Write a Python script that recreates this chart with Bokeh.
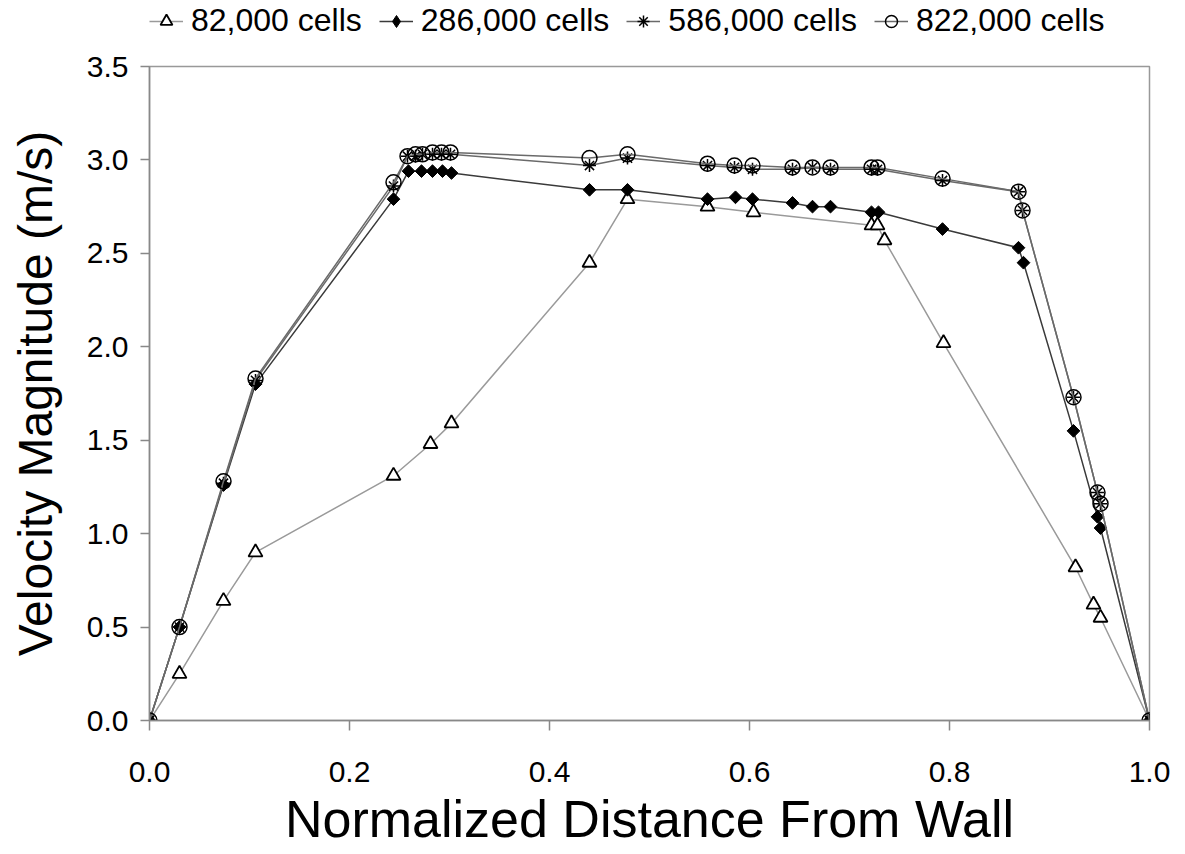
from bokeh.plotting import figure
from bokeh.layouts import column
from bokeh.models import Range1d, FixedTicker, NumeralTickFormatter, Legend, LegendItem
from bokeh.embed import file_html
from bokeh.resources import INLINE

# ---- data ----
x_82 = [0.0, 0.03, 0.074, 0.106, 0.244, 0.281, 0.302, 0.44, 0.478, 0.558, 0.604,
        0.722, 0.728, 0.735, 0.794, 0.926, 0.944, 0.951, 1.0]
v_82 = [0.0, 0.25, 0.64, 0.90, 1.31, 1.48, 1.59, 2.45, 2.79, 2.75, 2.72,
        2.65, 2.65, 2.57, 2.02, 0.82, 0.62, 0.55, 0.0]

x_286 = [0.0, 0.03, 0.074, 0.106, 0.244, 0.259, 0.272, 0.283, 0.293, 0.302, 0.44, 0.478,
         0.558, 0.586, 0.603, 0.643, 0.663, 0.681, 0.722, 0.729, 0.793, 0.869, 0.874,
         0.924, 0.948, 0.951, 1.0]
v_286 = [0.0, 0.50, 1.26, 1.80, 2.79, 2.94, 2.94, 2.94, 2.94, 2.93, 2.84, 2.84,
         2.79, 2.80, 2.79, 2.77, 2.75, 2.75, 2.72, 2.72, 2.63, 2.53, 2.45,
         1.55, 1.09, 1.03, 0.0]

x_586 = [0.0, 0.03, 0.074, 0.106, 0.244, 0.258, 0.266, 0.273, 0.283, 0.292, 0.301, 0.44, 0.478,
         0.558, 0.585, 0.603, 0.643, 0.663, 0.681, 0.722, 0.728, 0.793, 0.869, 0.873,
         0.924, 0.948, 0.951, 1.0]
v_586 = [0.0, 0.50, 1.27, 1.82, 2.86, 3.02, 3.02, 3.03, 3.03, 3.03, 3.03, 2.97, 3.01,
         2.97, 2.96, 2.95, 2.95, 2.96, 2.95, 2.95, 2.95, 2.89, 2.83, 2.73,
         1.73, 1.22, 1.16, 0.0]

x_822 = [0.0, 0.03, 0.074, 0.106, 0.244, 0.258, 0.266, 0.273, 0.283, 0.292, 0.301, 0.44, 0.478,
         0.558, 0.585, 0.603, 0.643, 0.663, 0.681, 0.722, 0.728, 0.793, 0.869, 0.873,
         0.924, 0.948, 0.951, 1.0]
v_822 = [0.0, 0.50, 1.28, 1.83, 2.88, 3.02, 3.03, 3.03, 3.04, 3.04, 3.04, 3.01, 3.03,
         2.98, 2.97, 2.97, 2.96, 2.96, 2.96, 2.96, 2.96, 2.90, 2.83, 2.73,
         1.73, 1.22, 1.16, 0.0]

labels = ["82,000 cells", "286,000 cells", "586,000 cells", "822,000 cells"]
x_ticks = [0.0, 0.2, 0.4, 0.6, 0.8, 1.0]
y_ticks = [0.0, 0.5, 1.0, 1.5, 2.0, 2.5, 3.0, 3.5]

FONT = "Liberation Sans"

line_styles = [dict(line_color="#9a9a9a", line_width=1.5),
               dict(line_color="#3a3a3a", line_width=1.5),
               dict(line_color="#6a6a6a", line_width=1.5),
               dict(line_color="#6a6a6a", line_width=1.5)]
mark_styles = [dict(marker="triangle", size=14, fill_color="white",
                    line_color="black", line_width=1.8),
               dict(marker="square", angle=0.785398, size=9, fill_color="black",
                    line_color="black", line_width=1),
               dict(marker="asterisk", size=13, line_color="black", line_width=1.5),
               dict(marker="circle", size=15, fill_color=None,
                    line_color="black", line_width=1.5)]
legend_marks = [mark_styles[0],
                dict(marker="diamond", size=14, fill_color="black",
                     line_color="black", line_width=1),
                mark_styles[2], mark_styles[3]]
series = [(x_82, v_82), (x_286, v_286), (x_586, v_586), (x_822, v_822)]

# ---- main plot ----
p = figure(width=1180, height=806, output_backend="svg", toolbar_location=None,
           x_range=Range1d(0, 1), y_range=Range1d(0, 3.5),
           min_border_left=149, min_border_right=31, min_border_top=22,
           min_border_bottom=130)
p.grid.visible = False
p.background_fill_color = "white"
p.border_fill_color = "white"
p.outline_line_color = "#999999"
p.outline_line_width = 1.5

for ax in (p.xaxis[0], p.yaxis[0]):
    ax.axis_line_color = "#888888"
    ax.axis_line_width = 1.5
    ax.major_tick_line_color = "#888888"
    ax.major_tick_line_width = 1.5
    ax.major_tick_in = 0
    ax.minor_tick_line_color = None
    ax.major_label_text_font = FONT
    ax.major_label_text_font_size = "30px"
    ax.major_label_text_color = "black"
    ax.axis_label_text_font = FONT
    ax.axis_label_text_font_style = "normal"
    ax.axis_label_text_color = "black"
    ax.formatter = NumeralTickFormatter(format="0.0")

p.xaxis[0].ticker = FixedTicker(ticks=x_ticks)
p.yaxis[0].ticker = FixedTicker(ticks=y_ticks)
p.xaxis[0].major_tick_out = 10
p.yaxis[0].major_tick_out = 9
p.xaxis[0].major_label_standoff = 31
p.yaxis[0].major_label_standoff = 12
p.xaxis[0].axis_label = "Normalized Distance From Wall"
p.yaxis[0].axis_label = "Velocity Magnitude (m/s)"
p.xaxis[0].axis_label_text_font_size = "52px"
p.yaxis[0].axis_label_text_font_size = "48px"
p.xaxis[0].axis_label_standoff = 5
p.yaxis[0].axis_label_standoff = 22

for (xs, ys), ls, ms in zip(series, line_styles, mark_styles):
    p.line(xs, ys, **ls)
    p.scatter(xs, ys, **ms)

# ---- legend strip above the plot (its glyphs lie outside its visible range) ----
lg = figure(width=1180, height=44, output_backend="svg", toolbar_location=None,
            x_range=Range1d(0, 1), y_range=Range1d(100, 101),
            min_border_left=0, min_border_right=0, min_border_top=0,
            min_border_bottom=0, x_axis_type=None, y_axis_type=None)
lg.grid.visible = False
lg.outline_line_color = None
lg.border_fill_color = "white"

items = []
for lab, (xs, ys), ls, ms in zip(labels, series, line_styles, legend_marks):
    r1 = lg.line(xs, ys, **ls)
    r2 = lg.scatter(xs, ys, **ms)
    items.append(LegendItem(label=lab, renderers=[r1, r2]))

legend = Legend(items=items, orientation="horizontal", location=(0, 5),
                label_text_font=FONT, label_text_font_size="32px",
                label_text_color="black",
                glyph_width=34, glyph_height=30, label_height=30,
                label_standoff=8, spacing=17, padding=0, margin=0,
                border_line_color=None, background_fill_color=None)
lg.add_layout(legend, "center")

layout = column(lg, p, spacing=0)
open("out.html", "w").write(file_html(layout, INLINE))
